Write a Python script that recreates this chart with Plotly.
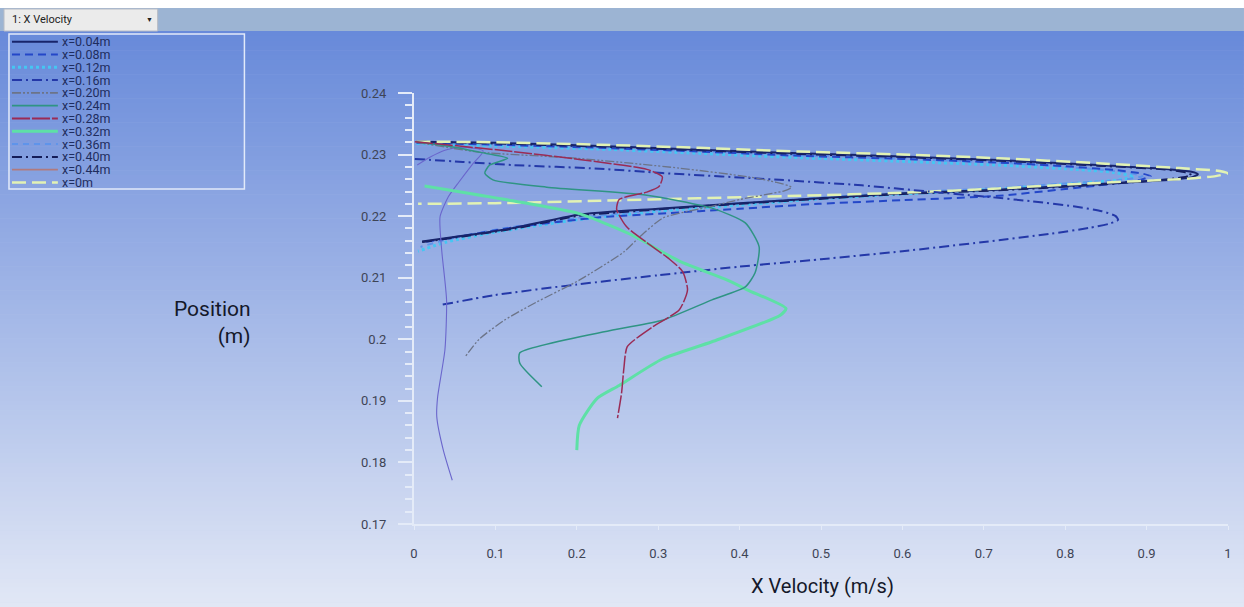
import numpy as np
import plotly.graph_objects as go

# ---------------- data ----------------
series_names = ["x=0.04m", "x=0.08m", "x=0.12m", "x=0.16m", "x=0.20m", "x=0.24m",
                "x=0.28m", "x=0.32m", "x=0.36m", "x=0.40m", "x=0.44m", "x=0m"]

vel_004 = [0.003,0.1,0.228,0.35,0.473,0.6,0.718,0.84,0.92,0.955,0.963,0.955,0.93,0.84,0.718,0.6,0.497,0.4,0.3,0.2,0.124,0.06,0.01]
pos_004 = [0.2321,0.2319,0.2314,0.2308,0.2302,0.2297,0.2291,0.2283,0.2277,0.2272,0.2268,0.2263,0.2259,0.2252,0.2243,0.2237,0.2229,0.2221,0.2212,0.2202,0.2181,0.2168,0.2159]

vel_008 = [0.003,0.1,0.228,0.35,0.473,0.6,0.718,0.8,0.86,0.895,0.905,0.895,0.88,0.8,0.718,0.6,0.497,0.4,0.3,0.228,0.124,0.06,0.013]
pos_008 = [0.2319,0.2316,0.2311,0.2305,0.2298,0.2293,0.2287,0.2281,0.2275,0.2269,0.2265,0.2260,0.2256,0.2244,0.2233,0.2226,0.2220,0.2212,0.2204,0.2198,0.2182,0.2168,0.2158]

vel_012 = [0.003,0.1,0.228,0.35,0.473,0.6,0.718,0.8,0.86,0.885,0.86,0.8,0.718,0.6,0.497,0.4,0.3,0.2,0.1,0.04,0.005]
pos_012 = [0.2318,0.2314,0.2309,0.2302,0.2295,0.2289,0.2283,0.2277,0.2271,0.2264,0.2258,0.2252,0.2244,0.2236,0.2228,0.2218,0.2208,0.2194,0.2174,0.2158,0.2143]

vel_016 = [0.001,0.06,0.121,0.228,0.305,0.449,0.55,0.632,0.7,0.76,0.81,0.845,0.862,0.865,0.855,0.83,0.78,0.7,0.6,0.5,0.4,0.3,0.2,0.1,0.034]
pos_016 = [0.2293,0.2288,0.2283,0.2277,0.2270,0.2259,0.2250,0.2240,0.2232,0.2224,0.2216,0.2208,0.2200,0.2194,0.2188,0.2181,0.2171,0.2158,0.2143,0.2130,0.2118,0.2104,0.2089,0.2072,0.2056]

vel_020 = [0.003,0.08,0.2,0.326,0.41,0.445,0.464,0.455,0.44,0.40,0.366,0.306,0.277,0.258,0.203,0.15,0.111,0.08,0.0625]
pos_020 = [0.2320,0.2304,0.2294,0.2278,0.2264,0.2255,0.2247,0.2241,0.2237,0.2227,0.2216,0.2197,0.2166,0.2142,0.2096,0.2060,0.2031,0.2000,0.1971]

vel_024 = [0.003,0.05,0.08,0.115,0.093,0.087,0.097,0.163,0.286,0.366,0.407,0.424,0.419,0.407,0.366,0.305,0.244,0.13,0.13,0.157]
pos_024 = [0.2321,0.2312,0.2304,0.2294,0.2283,0.2270,0.2259,0.2247,0.2234,0.2213,0.2189,0.2150,0.2108,0.2085,0.2064,0.2031,0.2015,0.1978,0.1961,0.1923]

vel_028 = [0.001,0.121,0.203,0.286,0.305,0.301,0.286,0.252,0.249,0.261,0.286,0.314,0.33,0.336,0.326,0.293,0.262,0.258,0.255,0.25]
pos_028 = [0.2321,0.2305,0.2292,0.2276,0.2264,0.2248,0.2239,0.2227,0.2211,0.2183,0.2157,0.2130,0.2110,0.2080,0.2048,0.2020,0.1988,0.1955,0.1913,0.1872]

vel_032 = [0.013,0.121,0.203,0.265,0.326,0.385,0.41,0.457,0.45,0.366,0.305,0.252,0.225,0.203,0.2]
pos_032 = [0.2249,0.2225,0.2204,0.2171,0.2127,0.2096,0.2080,0.2050,0.2039,0.1996,0.1968,0.1925,0.1904,0.1860,0.1820]

vel_036 = [0.003,0.1,0.228,0.35,0.473,0.6,0.718,0.8,0.87,0.895,0.87,0.8,0.718,0.6,0.497,0.4,0.3,0.2,0.1,0.04,0.008]
pos_036 = [0.2320,0.2317,0.2312,0.2306,0.2299,0.2293,0.2287,0.2280,0.2272,0.2265,0.2259,0.2253,0.2246,0.2238,0.2230,0.2221,0.2210,0.2197,0.2178,0.2162,0.2150]

vel_040 = [0.003,0.1,0.228,0.35,0.473,0.6,0.718,0.84,0.92,0.948,0.955,0.945,0.92,0.84,0.718,0.6,0.497,0.4,0.3,0.2,0.124,0.06,0.01]
pos_040 = [0.2321,0.2318,0.2313,0.2307,0.2301,0.2296,0.2290,0.2282,0.2276,0.2271,0.2267,0.2263,0.2259,0.2251,0.2242,0.2236,0.2228,0.2220,0.2211,0.2200,0.2180,0.2167,0.2158]

vel_044 = [0.004,0.02,0.038,0.06,0.085,0.071,0.055,0.042,0.032,0.034,0.040,0.038,0.029,0.028,0.036,0.047]
pos_044 = [0.2283,0.2296,0.2307,0.2312,0.2306,0.2283,0.2255,0.2231,0.2199,0.2145,0.2064,0.1983,0.1906,0.1874,0.1820,0.1771]

vel_000 = [0.003,0.1,0.228,0.35,0.473,0.6,0.718,0.84,0.94,0.985,1.0,0.985,0.94,0.84,0.718,0.6,0.473,0.35,0.228,0.1,0.005]
pos_000 = [0.2321,0.2320,0.2316,0.2311,0.2305,0.2300,0.2294,0.2286,0.2278,0.2274,0.2270,0.2265,0.2260,0.2254,0.2245,0.2238,0.2233,0.2229,0.2225,0.2221,0.2220]

x_ticks = [0, 0.1, 0.2, 0.3, 0.4, 0.5, 0.6, 0.7, 0.8, 0.9, 1]
y_ticks = [0.17, 0.18, 0.19, 0.2, 0.21, 0.22, 0.23, 0.24]

# ---------------- styles ----------------
styles = {
    "x=0.04m": dict(color="#18246a", width=2.0, dash="solid"),
    "x=0.08m": dict(color="#2447c8", width=2.0, dash="8px,5px"),
    "x=0.12m": dict(color="#46c6f2", width=3.0, dash="3px,3px"),
    "x=0.16m": dict(color="#2438a8", width=2.0, dash="10px,4px,2px,4px"),
    "x=0.20m": dict(color="#6c7488", width=1.3, dash="9px,2px,2px,2px,2px,2px"),
    "x=0.24m": dict(color="#2f9484", width=1.5, dash="solid"),
    "x=0.28m": dict(color="#9a2b55", width=1.5, dash="18px,2px"),
    "x=0.32m": dict(color="#5ee0a6", width=3.0, dash="solid"),
    "x=0.36m": dict(color="#5f94ea", width=2.0, dash="6px,5px"),
    "x=0.40m": dict(color="#141c58", width=2.0, dash="10px,4px,2px,4px"),
    "x=0.44m": dict(color="#6a66cc", width=1.1, dash="solid"),
    "x=0m":    dict(color="#e2f2b4", width=2.5, dash="14px,6px"),
}
legend_colors = dict((k, v["color"]) for k, v in styles.items())
legend_colors["x=0.44m"] = "#b07a7e"

data_map = {
    "x=0.04m": (vel_004, pos_004), "x=0.08m": (vel_008, pos_008),
    "x=0.12m": (vel_012, pos_012), "x=0.16m": (vel_016, pos_016),
    "x=0.20m": (vel_020, pos_020), "x=0.24m": (vel_024, pos_024),
    "x=0.28m": (vel_028, pos_028), "x=0.32m": (vel_032, pos_032),
    "x=0.36m": (vel_036, pos_036), "x=0.40m": (vel_040, pos_040),
    "x=0.44m": (vel_044, pos_044), "x=0m": (vel_000, pos_000),
}
draw_order = ["x=0.12m", "x=0.36m", "x=0.08m", "x=0.40m", "x=0.04m", "x=0m",
              "x=0.16m", "x=0.44m", "x=0.20m", "x=0.32m", "x=0.24m", "x=0.28m"]

W, H = 1244, 607
L, R, T, B = 414, 1230, 93, 524   # plot area in pixels

def px(x):
    return (x - L) / (R - L)

def py(y):
    return (B - y) / (B - T)

FONT = "Roboto, Liberation Sans, sans-serif"

fig = go.Figure()
for name in draw_order:
    vx, vy = data_map[name]
    st = styles[name]
    fig.add_trace(go.Scatter(x=vx, y=vy, mode="lines", name=name, showlegend=False,
                             line=dict(color=st["color"], width=st["width"], dash=st["dash"],
                                       shape="spline", smoothing=0.6),
                             hoverinfo="skip"))

shapes = []
# background gradient (vertical)
top_c = np.array([104, 138, 218])
bot_c = np.array([226, 232, 246])
n = 120
y0p, y1p = 31, H
for i in range(n):
    a = y0p + (y1p - y0p) * i / n
    b = y0p + (y1p - y0p) * (i + 1) / n
    t = (i + 0.5) / n
    c = top_c + (bot_c - top_c) * t
    col = "rgb(%d,%d,%d)" % tuple(c.astype(int))
    shapes.append(dict(type="rect", xref="paper", yref="paper", layer="below",
                       x0=px(-2), x1=px(W + 2), y0=py(b + 0.6), y1=py(a),
                       fillcolor=col, line=dict(width=0)))
# top bar
shapes.append(dict(type="rect", xref="paper", yref="paper", layer="below",
                   x0=px(-2), x1=px(W + 2), y0=py(31), y1=py(8),
                   fillcolor="#9cb4d3", line=dict(width=0)))
shapes.append(dict(type="rect", xref="paper", yref="paper", layer="below",
                   x0=px(-2), x1=px(W + 2), y0=py(8), y1=py(-2),
                   fillcolor="#ffffff", line=dict(width=0)))
# dropdown box
shapes.append(dict(type="rect", xref="paper", yref="paper", layer="below",
                   x0=px(3), x1=px(157), y0=py(31), y1=py(9),
                   fillcolor="#ebebeb", line=dict(color="#b8bcc4", width=1)))
# legend box
shapes.append(dict(type="rect", xref="paper", yref="paper", layer="above",
                   x0=px(8), x1=px(244), y0=py(189), y1=py(34),
                   fillcolor="rgba(0,0,0,0)", line=dict(color="#e2eafa", width=1.5)))

annotations = []
for i, name in enumerate(series_names):
    yy = 41.7 + i * 12.8
    st = styles[name]
    shapes.append(dict(type="line", xref="paper", yref="paper", layer="above",
                       x0=px(11), x1=px(57), y0=py(yy), y1=py(yy),
                       line=dict(color=legend_colors[name], width=max(st["width"], 1.8),
                                 dash=st["dash"])))
    annotations.append(dict(xref="paper", yref="paper", x=px(59), y=py(yy),
                            xanchor="left", yanchor="middle", showarrow=False,
                            text=name, font=dict(family=FONT, size=12.5, color="#1f2d5e")))

annotations.append(dict(xref="paper", yref="paper", x=px(9), y=py(20),
                        xanchor="left", yanchor="middle", showarrow=False,
                        text="1: X Velocity", font=dict(family=FONT, size=11, color="#222222")))
annotations.append(dict(xref="paper", yref="paper", x=px(149), y=py(20),
                        xanchor="center", yanchor="middle", showarrow=False,
                        text="▼", font=dict(size=7, color="#222222")))
annotations.append(dict(xref="paper", yref="paper", x=px(253), y=py(322),
                        xanchor="right", yanchor="middle", showarrow=False, align="right",
                        text="Position<br>(m)",
                        font=dict(family=FONT, size=21, color="#14182a")))
annotations.append(dict(xref="paper", yref="paper", x=px(824), y=py(586),
                        xanchor="center", yanchor="middle", showarrow=False,
                        text="X Velocity (m/s)",
                        font=dict(family=FONT, size=20, color="#14182a")))

tick_font = dict(family=FONT, size=13, color="#3e4456")

fig.update_layout(
    width=W, height=H, autosize=False,
    margin=dict(l=L, r=W - R, t=T, b=H - B, pad=0),
    paper_bgcolor="#c0cdeb", plot_bgcolor="rgba(0,0,0,0)",
    shapes=shapes, annotations=annotations, showlegend=False,
    xaxis=dict(range=[0, 1], tickvals=x_ticks, ticktext=[("%g" % v) for v in x_ticks],
               showgrid=False, zeroline=False, showline=True, linecolor="#e4ebf8", linewidth=2,
               ticks="outside", ticklen=4, tickcolor="#e4ebf8", tickwidth=1,
               ticklabelstandoff=12, tickfont=tick_font),
    yaxis=dict(range=[0.17, 0.24], tickvals=y_ticks, ticktext=[("%g" % v) for v in y_ticks],
               showgrid=False, zeroline=False, showline=True, linecolor="#e4ebf8", linewidth=2,
               ticks="outside", ticklen=14, tickcolor="#e4ebf8", tickwidth=2,
               ticklabelstandoff=9, tickfont=tick_font,
               minor=dict(ticks="outside", ticklen=7, dtick=0.002, tickcolor="#e4ebf8",
                          tickwidth=2, showgrid=False)),
)

fig.write_html("out.html", config={"displayModeBar": False},
               post_script="document.body.style.margin='0px';document.body.style.overflow='hidden';")
